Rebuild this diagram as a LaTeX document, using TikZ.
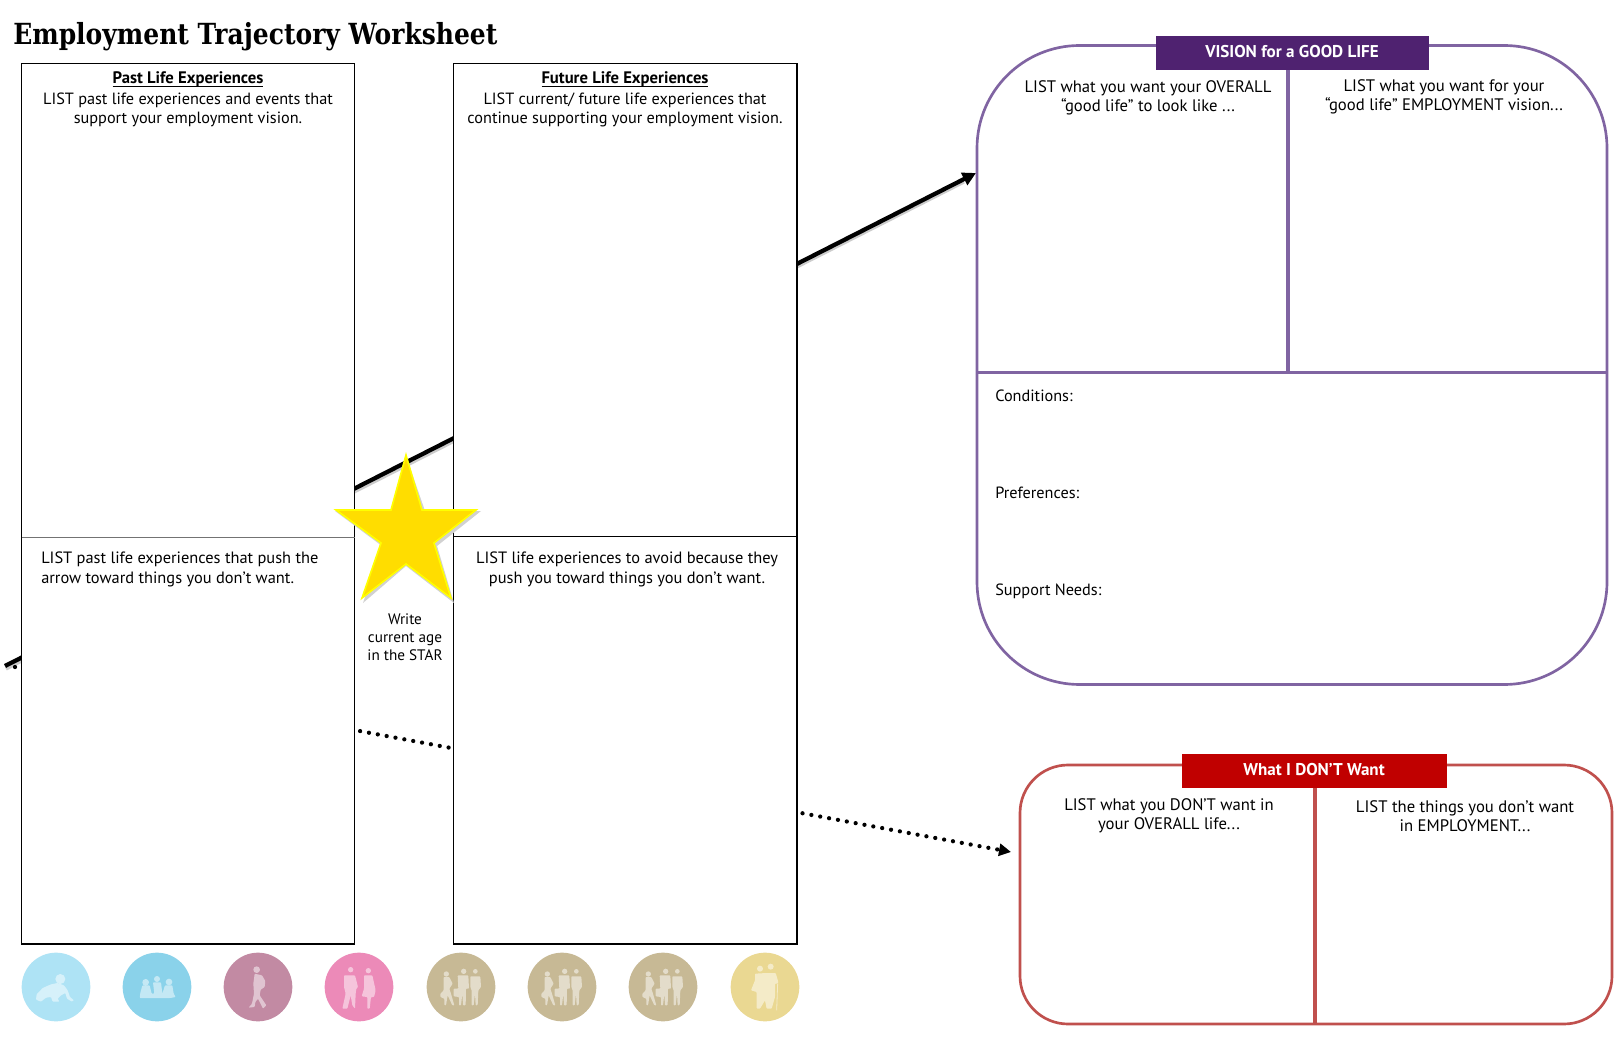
\documentclass[tikz,border=0pt]{standalone}
\usepackage{fontspec}
\setmainfont{PT Sans}
\newfontfamily\titlefont[FakeStretch=0.86]{DejaVu Serif}
\usetikzlibrary{arrows.meta}
\definecolor{visline}{HTML}{8064A2}
\definecolor{vishead}{HTML}{4F2270}
\definecolor{dontline}{HTML}{C0504D}
\definecolor{donthead}{HTML}{C00000}
\definecolor{starfill}{HTML}{FFDD00}
\definecolor{starline}{HTML}{FFFF00}
\tikzset{
  x=0.75pt,y=-0.75pt,
  listbox/.style={draw=black,line width=0.8pt,fill=white},
  body/.style={font=\fontsize{12.2}{14.7}\selectfont,align=center,text=black,inner sep=0pt},
  bodyhead/.style={body,font=\fontsize{12.5}{14.7}\selectfont,anchor=base},
  bodylow/.style={body,font=\fontsize{12.3}{15}\selectfont},
  bodypanel/.style={body,font=\fontsize{12.5}{14}\selectfont},
  bodyl/.style={body,align=left,anchor=west},
  small/.style={body,font=\fontsize{11.4}{13.4}\selectfont},
  headbar/.style={text=white,font=\fontsize{12.8}{14}\selectfont\bfseries,inner sep=0pt},
  vispanel/.style={draw=visline,line width=2pt},
  visrule/.style={draw=visline,line width=2.6pt},
  dontpanel/.style={draw=dontline,line width=2pt},
  dontrule/.style={draw=dontline,line width=2.6pt},
  lifecircle/.style={circle,minimum size=51.5pt,inner sep=0pt,draw=none},
  sil/.style={fill=white,fill opacity=0.5,draw=none,rounded corners=0.6pt},
  thickarrow/.style={line width=3.2pt,-{Triangle[length=10pt,width=10pt]}},
  dotarrow/.style={line width=3.2pt,line cap=round,dash pattern=on 0pt off 6.75pt,-{Triangle[length=9pt,width=9pt]}},
}
% silhouettes, in units of a third of a pixel from the circle's centre
\newcommand{\TanTrio}[1]{\begin{scope}[shift={(#1)},x=0.25pt,y=-0.25pt]
  \fill[sil] (-44,-39) circle[radius=8] (8,-47) circle[radius=8] (43,-47) circle[radius=7];
  \fill[sil] (-52,-30)--(-35,-30)--(-25,-10)--(-35,5)--(-30,20)--(-20,55)--(-26,55)--(-40,25)--(-45,55)--(-50,55)--(-50,35)--(-62,30)--(-62,20)--(-52,10)--cycle;
  \fill[sil] (-10,-35)--(22,-35)--(24,5)--(15,5)--(14,55)--(6,55)--(4,20)--(0,55)--(-6,55)--(-6,30)--(-22,28)--(-22,5)--(-8,5)--cycle;
  \fill[sil] (28,-32)--(58,-32)--(60,0)--(52,10)--(50,55)--(44,55)--(42,20)--(38,55)--(32,55)--(32,10)--(28,0)--cycle;
\end{scope}}
\begin{document}
\begin{tikzpicture}
\useasboundingbox[fill=white] (0,0) rectangle (1620,1044);

% connectors run behind the boxes
\coordinate (goodstart) at (5,666);
\coordinate (goodend) at (976,173);
\coordinate (badstart) at (15,667);
\coordinate (badend) at (1011,852);
\draw[line width=2.4pt,black!20,line cap=butt] ([shift={(1,3)}]goodstart) -- ([shift={(-12,9)}]goodend);
\draw[thickarrow] (goodstart) -- (goodend);
\draw[dotarrow] (badstart) -- (badend);

% boxes
\node[anchor=west,font=\titlefont\fontsize{21.8}{24}\selectfont\bfseries,inner sep=0pt] (title) at (13,37) {Employment Trajectory Worksheet};
\draw[listbox] (21.5,63.5) rectangle (354.5,944);
\draw[listbox] (453.5,63.5) rectangle (797,944);
\draw[black!55,line width=0.7pt] (21.5,537) -- (354.5,537);
\draw[black,line width=0.7pt] (453.5,536) -- (797,536);

\node[bodyhead] (pasthead) at (188,84) {\underline{\smash{\bfseries Past Life Experiences}}};
\node[body,anchor=north] (pastlist) at (188,92.5) {LIST past life experiences and events that\\support your employment vision.};
\node[bodyhead] (futurehead) at (625,84) {\underline{\smash{\bfseries Future Life Experiences}}};
\node[body,anchor=north] (futurelist) at (625,92.5) {LIST current/ future life experiences that\\continue supporting your employment vision.};
\node[bodylow,anchor=west,align=left] (pastbad) at (41,569) {LIST past life experiences that push the\\arrow toward things you don’t want.};
\node[bodylow] (futurebad) at (627,569) {LIST life experiences to avoid because they\\push you toward things you don’t want.};

% star
\fill[black!18] (406,456)--(392,511)--(335,511)--(382,546)--(363,603)--(406,566)--(454,603)--(437,546)--(481,511)--(425,511)--cycle;
\draw[starline,fill=starfill,line width=1.2pt,line join=miter] (406,455)--(391,510)--(336,510)--(381,543)--(362,598)--(406,564)--(451,598)--(434,543)--(476,510)--(422,510)--cycle;
\node[small] (staragetext) at (405,637) {Write\\current age\\in the STAR};

% vision panel
\draw[vispanel,rounded corners=77pt] (977,45.5) rectangle (1607,684.5);
\draw[visrule] (977,372.5) -- (1607,372.5);
\draw[visrule] (1288,70) -- (1288,372);
\fill[vishead] (1156,36) rectangle (1429,70.5);
\node[headbar] (vishd) at (1292,52) {VISION for a GOOD LIFE};
\node[bodypanel] (visa) at (1148,98) {LIST what you want your OVERALL\\“good life” to look like ...};
\node[bodypanel] (visb) at (1444,97) {LIST what you want for your\\“good life” EMPLOYMENT vision...};
\node[bodyl] (cond) at (995,396) {Conditions:};
\node[bodyl] (pref) at (995,493) {Preferences:};
\node[bodyl] (supp) at (995,591) {Support Needs:};

% don't-want panel
\draw[dontpanel,rounded corners=36pt] (1020,765) rectangle (1612,1024);
\draw[dontrule] (1315,788) -- (1315,1024);
\fill[donthead] (1182,754) rectangle (1447,788);
\node[headbar] (donthd) at (1314,770) {What I DON’T Want};
\node[bodypanel] (donta) at (1169,816) {LIST what you DON’T want in\\your OVERALL life...};
\node[bodypanel] (dontb) at (1465,816) {LIST the things you don’t want\\in EMPLOYMENT...};

% life-stage circles
\node[lifecircle,fill={rgb,255:red,174;green,227;blue,245}] (c1) at (56,987) {};
\node[lifecircle,fill={rgb,255:red,138;green,210;blue,234}] (c2) at (157,987) {};
\node[lifecircle,fill={rgb,255:red,194;green,138;blue,163}] (c3) at (258,987) {};
\node[lifecircle,fill={rgb,255:red,236;green,138;blue,184}] (c4) at (359,987) {};
\node[lifecircle,fill={rgb,255:red,199;green,185;blue,149}] (c5) at (461,987) {};
\node[lifecircle,fill={rgb,255:red,199;green,185;blue,149}] (c6) at (562,987) {};
\node[lifecircle,fill={rgb,255:red,199;green,185;blue,149}] (c7) at (663,987) {};
\node[lifecircle,fill={rgb,255:red,234;green,216;blue,146}] (c8) at (765,987) {};

% baby
\begin{scope}[shift={(56,987)},x=0.25pt,y=-0.25pt]
  \fill[sil] (13,-24) circle[radius=15];
  \fill[sil] (-58,22)--(-40,3)--(-15,-8)--(5,-12)--(24,-5)--(35,10)--(42,30)--(54,40)--(48,44)--(33,35)--(28,18)--(15,25)--(5,35)--(10,44)--(-10,44)--(-15,30)--(-30,32)--(-45,44)--(-60,38)--cycle;
\end{scope}
% children
\begin{scope}[shift={(157,987)},x=0.25pt,y=-0.25pt]
  \fill[sil] (-34,-14) circle[radius=10] (0,-24) circle[radius=9] (36,-15) circle[radius=10];
  \fill[sil] (-44,-5)--(-22,-5)--(-16,20)--(-8,20)--(-12,-14)--(12,-14)--(16,20)--(24,-5)--(46,-5)--(50,20)--(56,30)--(40,33)--(-52,33)--(-50,18)--cycle;
\end{scope}
% pregnant woman
\begin{scope}[shift={(258,987)},x=0.25pt,y=-0.25pt]
  \fill[sil] (-4,-52) circle[radius=10];
  \fill[sil] (-10,-40)--(12,-35)--(22,-18)--(20,0)--(8,8)--(5,25)--(25,55)--(15,65)--(0,35)--(-8,45)--(-10,60)--(-28,62)--(-18,50)--(-12,20)--(-14,-10)--cycle;
\end{scope}
% couple
\begin{scope}[shift={(359,987)},x=0.25pt,y=-0.25pt]
  \fill[sil] (-25,-52) circle[radius=8] (28,-49) circle[radius=8];
  \fill[sil] (-45,-35)--(-12,-35)--(-3,0)--(-8,5)--(-10,20)--(-12,65)--(-20,55)--(-25,25)--(-35,65)--(-50,65)--(-40,20)--(-45,0)--cycle;
  \fill[sil] (15,-35)--(40,-35)--(50,10)--(45,30)--(36,30)--(32,65)--(25,65)--(25,30)--(8,28)--(15,5)--cycle;
\end{scope}
\TanTrio{461,987}
\TanTrio{562,987}
\TanTrio{663,987}
% older couple
\begin{scope}[shift={(765,987)},x=0.25pt,y=-0.25pt]
  \fill[sil] (-15,-55) circle[radius=9] (17,-61) circle[radius=9];
  \fill[sil] (-30,-40)--(5,-42)--(32,-42)--(40,-15)--(38,-10)--(30,-10)--(30,30)--(20,65)--(5,65)--(0,40)--(-15,65)--(-25,65)--(-25,15)--(-42,10)--(-30,-20)--cycle;
  \draw[white,opacity=0.5,line width=0.6pt] (38,-10) -- (35,70);
\end{scope}
\end{tikzpicture}
\end{document}
